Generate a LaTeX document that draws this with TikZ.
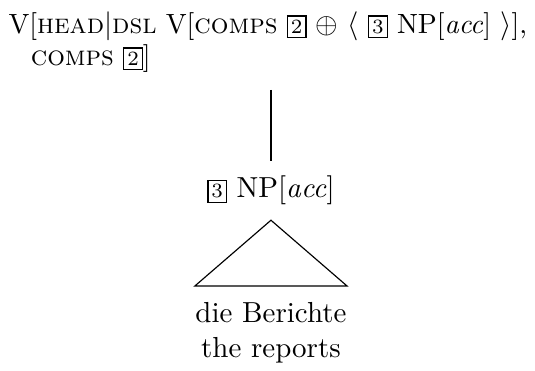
\documentclass[tikz,border=0pt]{standalone}
\usepackage{tikz}
\usetikzlibrary{positioning}

\newcommand{\tagbox}[1]{{\setlength{\fboxsep}{0.9pt}\fbox{\makebox[4.2pt]{\rule[-0.4pt]{0pt}{5.2pt}\scriptsize #1}}}}

\begin{document}
\begin{tikzpicture}[
    merkmal/.style={inner xsep=0pt, inner ysep=6pt, align=left,
                    font=\fontsize{9.6}{11}\selectfont},
    kategorie/.style={inner xsep=0pt, inner ysep=5pt},
    blatt/.style={inner xsep=0pt, inner ysep=5.5pt, align=center},
    kante/.style={line width=0.4pt}
]
    \useasboundingbox (0,0) rectangle (6.49,4.50);

    \node[merkmal, anchor=south west] (wurzel) at (0.097,3.409)
        {V[\textsc{head}$|$\textsc{dsl} V[\textsc{comps} \tagbox{2} $\oplus$ $\langle$ \tagbox{3} NP[\textit{acc}] $\rangle$],\\
         \hspace*{0.8em}\textsc{comps} \tagbox{2}]};
    \node[kategorie, anchor=base] (np) at (3.287,2.099) {\tagbox{3} NP[\textit{acc}]};
    \node[blatt, anchor=north] (blatt) at (3.287,1.031) {die Berichte\\the reports};

    \draw[kante] (wurzel.south -| np.north) -- (np.north);
    \draw[kante] (np.south) -- (blatt.north west) -- (blatt.north east) -- cycle;
\end{tikzpicture}
\end{document}
